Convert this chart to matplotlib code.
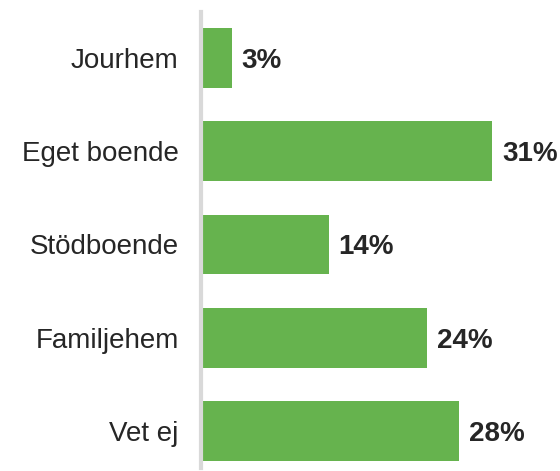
import matplotlib.pyplot as plt

plt.rcParams['font.family'] = ['Liberation Sans', 'DejaVu Sans']

categories = ['Jourhem', 'Eget boende', 'Stödboende', 'Familjehem', 'Vet ej']
values = [3.3, 31, 13.6, 24.1, 27.5]
value_labels = ['3%', '31%', '14%', '24%', '28%']

fig = plt.figure(figsize=(5.6, 4.71), dpi=100)
ax = fig.add_axes([201 / 560, 3 / 471, 359 / 560, 456 / 471])

pos = list(range(len(categories)))
ax.barh(pos, values, height=0.64, color='#66b34e', zorder=2)

for y, v, lab in zip(pos, values, value_labels):
    ax.annotate(lab, xy=(v, y), xytext=(7, -2), textcoords='offset points',
                ha='left', va='center', fontsize=20, fontweight='bold', color='#262626')

ax.set_xlim(0, 38.2)
ax.set_ylim(4.397, -0.493)
ax.set_yticks(pos)
ax.set_yticklabels(categories, fontsize=20, color='#262626')
ax.tick_params(axis='y', length=0, pad=16)
ax.set_xticks([])

for s in ['top', 'right', 'bottom']:
    ax.spines[s].set_visible(False)
ax.spines['left'].set_color('#d9d9d9')
ax.spines['left'].set_linewidth(3)

fig.savefig('out.png', dpi=100)
